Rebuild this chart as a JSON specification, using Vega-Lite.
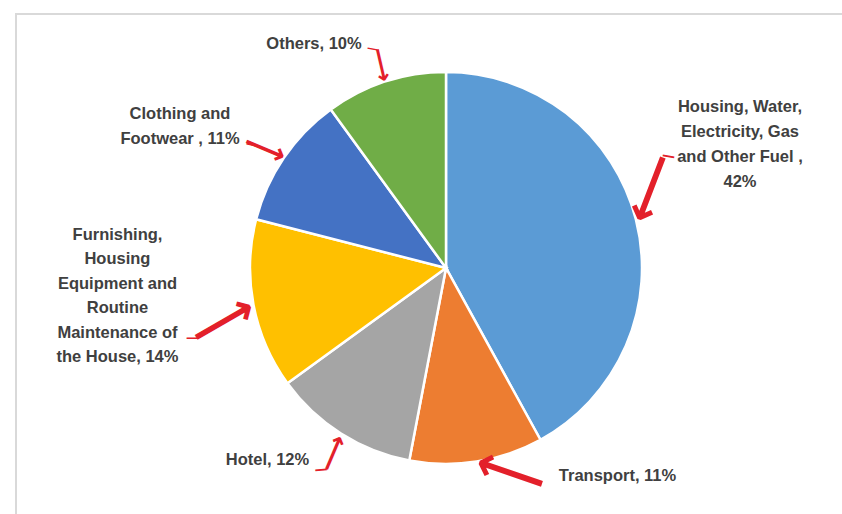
{
  "$schema": "https://vega.github.io/schema/vega-lite/v6.json",
  "width": 792,
  "height": 492,
  "autosize": {"type": "none"},
  "padding": {"left": 50, "top": 22, "right": 0, "bottom": 0},
  "background": "white",
  "config": {"view": {"stroke": null}},
  "data": {
    "values": [
      {"idx": 1, "category": "Housing, Water, Electricity, Gas and Other Fuel", "value": 42, "label": ["Housing, Water,", "Electricity, Gas", "and Other Fuel ,", "42%"]},
      {"idx": 2, "category": "Transport", "value": 11, "label": ["Transport, 11%"]},
      {"idx": 3, "category": "Hotel", "value": 12, "label": ["Hotel, 12%"]},
      {"idx": 4, "category": "Furnishing, Housing Equipment and Routine Maintenance of the House", "value": 14, "label": ["Furnishing,", "Housing", "Equipment and", "Routine", "Maintenance  of", "the House, 14%"]},
      {"idx": 5, "category": "Clothing and Footwear", "value": 11, "label": ["Clothing and", "Footwear , 11%"]},
      {"idx": 6, "category": "Others", "value": 10, "label": ["Others, 10%"]}
    ]
  },
  "layer": [
    {
      "data": {"values": [{"frame": "chart area"}]},
      "mark": {"type": "rect", "fill": null, "stroke": "#d9d9d9", "strokeWidth": 2},
      "encoding": {
        "x": {"datum": -0.0429, "type": "quantitative", "scale": {"domain": [0, 1]}, "axis": null},
        "x2": {"datum": 2},
        "y": {"datum": 1.0163, "type": "quantitative", "scale": {"domain": [0, 1]}, "axis": null},
        "y2": {"datum": -1}
      }
    },
    {
      "encoding": {
        "theta": {"field": "value", "type": "quantitative", "stack": true},
        "order": {"field": "idx", "type": "quantitative"},
        "detail": {"field": "category", "type": "nominal"}
      },
      "layer": [
        {
          "mark": {"type": "arc", "outerRadius": 196, "stroke": "white", "strokeWidth": 2.5},
          "encoding": {
            "color": {
              "field": "category", "type": "nominal", "legend": null,
              "scale": {
                "domain": ["Housing, Water, Electricity, Gas and Other Fuel", "Transport", "Hotel", "Furnishing, Housing Equipment and Routine Maintenance of the House", "Clothing and Footwear", "Others"],
                "range": ["#5B9BD5", "#ED7D31", "#A5A5A5", "#FFC000", "#4472C4", "#70AD47"]
              }
            }
          }
        },
        {"mark": {"type": "text", "radius": 335.2, "thetaOffset": -0.2498, "font": "Liberation Sans", "fontSize": 16.5, "fontWeight": "bold", "fill": "#404040", "lineHeight": 25, "align": "center", "baseline": "middle"},
         "encoding": {"text": {"condition": {"test": "datum.idx === 1", "field": "label"}, "value": ""}}},
        {"mark": {"type": "text", "radius": 269.6, "thetaOffset": -0.5325, "font": "Liberation Sans", "fontSize": 16.5, "fontWeight": "bold", "fill": "#404040", "lineHeight": 24.5, "align": "center", "baseline": "middle"},
         "encoding": {"text": {"condition": {"test": "datum.idx === 2", "field": "label"}, "value": ""}}},
        {"mark": {"type": "text", "radius": 261.8, "thetaOffset": 0.1848, "font": "Liberation Sans", "fontSize": 16.5, "fontWeight": "bold", "fill": "#404040", "lineHeight": 24.5, "align": "center", "baseline": "middle"},
         "encoding": {"text": {"condition": {"test": "datum.idx === 3", "field": "label"}, "value": ""}}},
        {"mark": {"type": "text", "radius": 330.2, "thetaOffset": 0.2887, "font": "Liberation Sans", "fontSize": 16.5, "fontWeight": "bold", "fill": "#404040", "lineHeight": 24.4, "align": "center", "baseline": "middle"},
         "encoding": {"text": {"condition": {"test": "datum.idx === 4", "field": "label"}, "value": ""}}},
        {"mark": {"type": "text", "radius": 307.6, "thetaOffset": -0.0707, "font": "Liberation Sans", "fontSize": 16.5, "fontWeight": "bold", "fill": "#404040", "lineHeight": 25.5, "align": "center", "baseline": "middle"},
         "encoding": {"text": {"condition": {"test": "datum.idx === 5", "field": "label"}, "value": ""}}},
        {"mark": {"type": "text", "radius": 260.4, "thetaOffset": -0.2173, "font": "Liberation Sans", "fontSize": 16.5, "fontWeight": "bold", "fill": "#404040", "lineHeight": 24.5, "align": "center", "baseline": "middle"},
         "encoding": {"text": {"condition": {"test": "datum.idx === 6", "field": "label"}, "value": ""}}},
        {"mark": {"type": "text", "radius": 219.6, "thetaOffset": -0.1217, "angle": 111, "font": "DejaVu Sans", "fontWeight": "bold", "fontSize": 50, "fill": "#E3202A", "align": "center", "baseline": "middle"},
         "encoding": {"text": {"condition": {"test": "datum.idx === 1", "value": "⟶"}, "value": ""}}},
        {"mark": {"type": "text", "radius": 214.6, "thetaOffset": -0.1506, "angle": 199, "font": "DejaVu Sans", "fontWeight": "bold", "fontSize": 50, "fill": "#E3202A", "align": "center", "baseline": "middle"},
         "encoding": {"text": {"condition": {"test": "datum.idx === 2", "value": "⟶"}, "value": ""}}},
        {"mark": {"type": "text", "radius": 217.0, "thetaOffset": -0.0204, "angle": -67, "font": "DejaVu Sans", "fontWeight": "bold", "fontSize": 26, "fill": "#E3202A", "align": "center", "baseline": "middle"},
         "encoding": {"text": {"condition": {"test": "datum.idx === 3", "value": "⟶"}, "value": ""}}},
        {"mark": {"type": "text", "radius": 229.1, "thetaOffset": -0.0517, "angle": -30, "font": "DejaVu Sans", "fontWeight": "bold", "fontSize": 47, "fill": "#E3202A", "align": "center", "baseline": "middle"},
         "encoding": {"text": {"condition": {"test": "datum.idx === 4", "value": "⟶"}, "value": ""}}},
        {"mark": {"type": "text", "radius": 216.8, "thetaOffset": -0.0185, "angle": 23, "font": "DejaVu Sans", "fontWeight": "bold", "fontSize": 30, "fill": "#E3202A", "align": "center", "baseline": "middle"},
         "encoding": {"text": {"condition": {"test": "datum.idx === 5", "value": "⟶"}, "value": ""}}},
        {"mark": {"type": "text", "radius": 213.3, "thetaOffset": 0.0021, "angle": 77, "font": "DejaVu Sans", "fontWeight": "bold", "fontSize": 24, "fill": "#E3202A", "align": "center", "baseline": "middle"},
         "encoding": {"text": {"condition": {"test": "datum.idx === 6", "value": "⟶"}, "value": ""}}},
        {"mark": {"type": "text", "radius": 249.1, "thetaOffset": -0.2150, "angle": 10, "font": "DejaVu Sans", "fontWeight": "bold", "fontSize": 13, "fill": "#E3202A", "align": "center", "baseline": "middle"},
         "encoding": {"text": {"condition": {"test": "datum.idx === 1", "value": "—"}, "value": ""}}},
        {"mark": {"type": "text", "radius": 237.1, "thetaOffset": -0.0105, "angle": -5, "font": "DejaVu Sans", "fontWeight": "bold", "fontSize": 13, "fill": "#E3202A", "align": "center", "baseline": "middle"},
         "encoding": {"text": {"condition": {"test": "datum.idx === 3", "value": "—"}, "value": ""}}},
        {"mark": {"type": "text", "radius": 263.5, "thetaOffset": -0.0803, "angle": 0, "font": "DejaVu Sans", "fontWeight": "bold", "fontSize": 12, "fill": "#E3202A", "align": "center", "baseline": "middle"},
         "encoding": {"text": {"condition": {"test": "datum.idx === 4", "value": "—"}, "value": ""}}},
        {"mark": {"type": "text", "radius": 230.2, "thetaOffset": -0.0281, "angle": 12, "font": "DejaVu Sans", "fontWeight": "bold", "fontSize": 12, "fill": "#E3202A", "align": "center", "baseline": "middle"},
         "encoding": {"text": {"condition": {"test": "datum.idx === 5", "value": "—"}, "value": ""}}},
        {"mark": {"type": "text", "radius": 231.0, "thetaOffset": -0.0096, "angle": 10, "font": "DejaVu Sans", "fontWeight": "bold", "fontSize": 11, "fill": "#E3202A", "align": "center", "baseline": "middle"},
         "encoding": {"text": {"condition": {"test": "datum.idx === 6", "value": "—"}, "value": ""}}}
      ]
    }
  ]
}
